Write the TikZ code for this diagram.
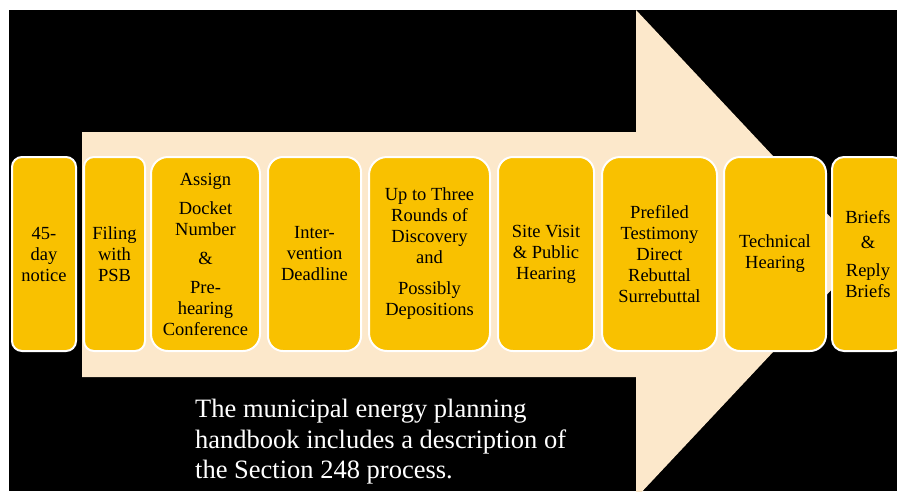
\documentclass[tikz,border=0pt]{standalone}
\usepackage{fontspec}
\setmainfont{Liberation Serif}
\definecolor{gold}{RGB}{249,193,0}
\definecolor{beige}{RGB}{252,232,203}
\tikzset{
  stepbox/.style={draw=white, line width=2pt, fill=gold, align=center,
    minimum height=194pt, inner sep=1pt, text=black,
    font=\fontsize{18.5}{21}\selectfont},
  notetext/.style={anchor=north west, inner sep=0pt, text=white, align=left,
    font=\fontsize{26.5}{30.5}\selectfont}
}
\begin{document}
\begin{tikzpicture}[x=1pt,y=-1pt]
\useasboundingbox (0,0) rectangle (897,491);
\fill[black] (9,10) rectangle (897,491);
\begin{scope}
\clip (9,10) rectangle (897,491);
\fill[beige] (82,132) -- (636,132) -- (636,10) -- (865,254) -- (636,498) -- (636,377) -- (82,377) -- cycle;
\node[stepbox, minimum width=64pt, rounded corners=10pt] (s1) at (44,254) {45-\\day\\notice};
\node[stepbox, minimum width=61pt, rounded corners=10pt] (s2) at (114.5,254) {Filing\\with\\PSB};
\node[stepbox, minimum width=109pt, rounded corners=17pt] (s3) at (205.5,254) {Assign\\[8pt]Docket\\Number\\[8pt]\&\\[8pt]Pre-\\hearing\\Conference};
\node[stepbox, minimum width=93pt, rounded corners=15pt] (s4) at (314.5,254) {Inter-\\vention\\Deadline};
\node[stepbox, minimum width=121pt, rounded corners=18pt] (s5) at (429.5,254) {Up to Three\\Rounds of\\Discovery\\and\\[10pt]Possibly\\Depositions};
\node[stepbox, minimum width=96pt, rounded corners=15pt] (s6) at (546,254) {Site Visit\\\& Public\\Hearing};
\node[stepbox, minimum width=115pt, rounded corners=18pt] (s7) at (659.5,254) {Prefiled\\Testimony\\Direct\\Rebuttal\\Surrebuttal};
\node[stepbox, minimum width=102pt, rounded corners=16pt] (s8) at (775,254) {Technical\\Hearing};
\node[stepbox, minimum width=72pt, rounded corners=12pt] (s9) at (868,254) {Briefs\\[4pt]\&\\[7pt]Reply\\Briefs};
\end{scope}
\node[notetext] (note) at (195,399) {The municipal energy planning\\handbook includes a description of\\the Section 248 process.};
\end{tikzpicture}
\end{document}
